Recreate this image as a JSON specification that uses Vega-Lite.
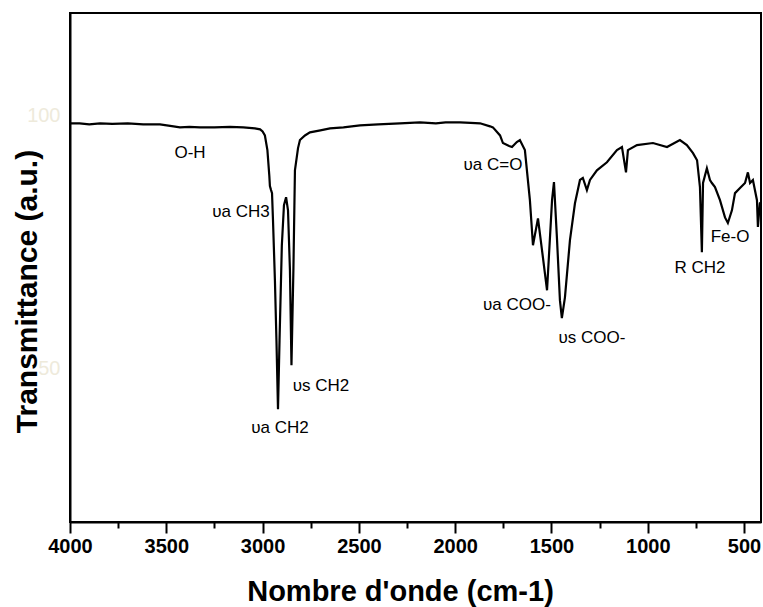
{
  "$schema": "https://vega.github.io/schema/vega-lite/v6.json",
  "width": 691,
  "height": 509,
  "autosize": "none",
  "padding": {"left": 70, "top": 13, "right": 2, "bottom": 85},
  "background": "white",
  "config": {
    "view": {"stroke": "black", "strokeWidth": 2},
    "font": "Liberation Sans"
  },
  "datasets": {
    "spectrum": [
      {"w": 4000, "t": 98.4}, {"w": 3950, "t": 98.4}, {"w": 3900, "t": 98.2}, {"w": 3844, "t": 98.4},
      {"w": 3780, "t": 98.3}, {"w": 3700, "t": 98.4}, {"w": 3620, "t": 98.2}, {"w": 3533, "t": 98.2},
      {"w": 3480, "t": 97.9}, {"w": 3429, "t": 97.6}, {"w": 3380, "t": 97.7}, {"w": 3325, "t": 97.6},
      {"w": 3250, "t": 97.6}, {"w": 3169, "t": 97.7}, {"w": 3100, "t": 97.6}, {"w": 3040, "t": 97.4},
      {"w": 3013, "t": 97.2}, {"w": 3000, "t": 96.8}, {"w": 2988, "t": 96.0}, {"w": 2975, "t": 93.1},
      {"w": 2965, "t": 88.0}, {"w": 2962, "t": 86.0}, {"w": 2956, "t": 85.2}, {"w": 2951, "t": 84.6},
      {"w": 2946, "t": 79.3}, {"w": 2936, "t": 67.4}, {"w": 2928, "t": 55.5}, {"w": 2920, "t": 41.9},
      {"w": 2912, "t": 55.5}, {"w": 2900, "t": 74.3}, {"w": 2889, "t": 82.2}, {"w": 2878, "t": 83.8},
      {"w": 2868, "t": 81.2}, {"w": 2858, "t": 69.4}, {"w": 2850, "t": 50.6}, {"w": 2840, "t": 69.4},
      {"w": 2832, "t": 89.1}, {"w": 2816, "t": 93.5}, {"w": 2806, "t": 95.1}, {"w": 2780, "t": 96.0},
      {"w": 2754, "t": 96.6}, {"w": 2700, "t": 97.0}, {"w": 2650, "t": 97.4}, {"w": 2580, "t": 97.6},
      {"w": 2494, "t": 98.0}, {"w": 2400, "t": 98.2}, {"w": 2287, "t": 98.4}, {"w": 2183, "t": 98.6},
      {"w": 2100, "t": 98.4}, {"w": 2050, "t": 98.6}, {"w": 1975, "t": 98.6}, {"w": 1920, "t": 98.5},
      {"w": 1871, "t": 98.4}, {"w": 1819, "t": 97.8}, {"w": 1804, "t": 97.6}, {"w": 1767, "t": 96.0},
      {"w": 1752, "t": 94.5}, {"w": 1720, "t": 93.9}, {"w": 1705, "t": 93.7}, {"w": 1680, "t": 94.7},
      {"w": 1664, "t": 95.1}, {"w": 1638, "t": 93.1}, {"w": 1612, "t": 83.2}, {"w": 1596, "t": 74.3},
      {"w": 1570, "t": 79.6}, {"w": 1549, "t": 73.3}, {"w": 1523, "t": 65.4}, {"w": 1497, "t": 83.2},
      {"w": 1487, "t": 86.8}, {"w": 1471, "t": 75.3}, {"w": 1456, "t": 63.4}, {"w": 1446, "t": 59.9},
      {"w": 1430, "t": 64.0}, {"w": 1404, "t": 75.3}, {"w": 1378, "t": 82.6}, {"w": 1352, "t": 87.2},
      {"w": 1337, "t": 87.6}, {"w": 1316, "t": 85.2}, {"w": 1300, "t": 87.2}, {"w": 1264, "t": 89.1},
      {"w": 1212, "t": 90.7}, {"w": 1160, "t": 93.1}, {"w": 1134, "t": 93.7}, {"w": 1113, "t": 88.7},
      {"w": 1103, "t": 93.1}, {"w": 1056, "t": 94.1}, {"w": 973, "t": 94.5}, {"w": 900, "t": 93.7},
      {"w": 833, "t": 95.1}, {"w": 797, "t": 94.1}, {"w": 765, "t": 92.5}, {"w": 744, "t": 91.1},
      {"w": 729, "t": 85.8}, {"w": 719, "t": 72.9}, {"w": 713, "t": 86.6}, {"w": 693, "t": 89.5},
      {"w": 677, "t": 87.2}, {"w": 667, "t": 86.6}, {"w": 651, "t": 85.8}, {"w": 625, "t": 83.2},
      {"w": 599, "t": 79.8}, {"w": 584, "t": 78.7}, {"w": 563, "t": 81.2}, {"w": 547, "t": 84.6},
      {"w": 521, "t": 85.6}, {"w": 495, "t": 86.6}, {"w": 480, "t": 88.7}, {"w": 469, "t": 86.6},
      {"w": 454, "t": 87.2}, {"w": 433, "t": 83.2}, {"w": 428, "t": 77.9}, {"w": 418, "t": 82.6},
      {"w": 412, "t": 82.8}
    ],
    "labels": [
      {"w": 3377, "t": 92.5, "label": "O-H"},
      {"w": 3112, "t": 80.8, "label": "υa CH3"},
      {"w": 2697, "t": 46.4, "label": "υs CH2"},
      {"w": 2910, "t": 38.2, "label": "υa CH2"},
      {"w": 1804, "t": 90.1, "label": "υa C=O"},
      {"w": 1679, "t": 62.5, "label": "υa COO-"},
      {"w": 1290, "t": 55.9, "label": "υs COO-"},
      {"w": 729, "t": 69.8, "label": "R CH2"},
      {"w": 573, "t": 75.9, "label": "Fe-O"}
    ]
  },
  "layer": [
    {
      "data": {"name": "spectrum"},
      "mark": {"type": "line", "color": "black", "strokeWidth": 2.2, "clip": true},
      "encoding": {
        "x": {
          "field": "w", "type": "quantitative",
          "scale": {"domain": [412, 4000], "reverse": true, "nice": false, "zero": false},
          "axis": {
            "orient": "bottom",
            "values": [3750, 3250, 2750, 2250, 1750, 1250, 750],
            "labels": false, "grid": false, "tickSize": 6, "tickWidth": 2,
            "tickColor": "black", "domain": true, "domainColor": "black", "domainWidth": 2,
            "title": null
          }
        },
        "y": {
          "field": "t", "type": "quantitative",
          "scale": {"domain": [19.6, 120.2], "nice": false, "zero": false},
          "axis": {
            "orient": "left",
            "values": [50, 100], "ticks": false, "grid": false,
            "domainColor": "black", "domainWidth": 2,
            "labelColor": "#eeeadb", "labelFontSize": 20, "labelFont": "Liberation Sans",
            "labelPadding": 10,
            "title": "Transmittance (a.u.)",
            "titleFont": "Liberation Sans", "titleFontSize": 30, "titleFontWeight": "bold",
            "titleColor": "black", "titleAngle": 270, "titleAlign": "center",
            "titleBaseline": "alphabetic", "titleX": -34, "titleY": 278
          }
        }
      }
    },
    {
      "data": {"name": "spectrum"},
      "mark": {"type": "line", "opacity": 0},
      "encoding": {
        "x": {
          "field": "w", "type": "quantitative",
          "axis": {
            "orient": "bottom",
            "values": [4000, 3500, 3000, 2500, 2000, 1500, 1000, 500],
            "format": "d", "grid": false, "tickSize": 11, "tickWidth": 2, "tickColor": "black",
            "domain": false, "labelFlush": false, "labelOverlap": false,
            "labelFont": "Liberation Sans", "labelFontSize": 20, "labelFontWeight": "bold",
            "labelColor": "black", "labelPadding": 3,
            "title": "Nombre d'onde (cm-1)",
            "titleFont": "Liberation Sans", "titleFontSize": 29, "titleFontWeight": "bold",
            "titleColor": "black", "titleAlign": "center", "titleBaseline": "alphabetic",
            "titleX": 330, "titleY": 78
          }
        },
        "y": {"field": "t", "type": "quantitative", "axis": null}
      }
    },
    {
      "data": {"name": "labels"},
      "mark": {"type": "text", "font": "Liberation Sans", "fontSize": 17, "color": "black", "align": "center", "baseline": "middle"},
      "encoding": {
        "x": {"field": "w", "type": "quantitative", "axis": null},
        "y": {"field": "t", "type": "quantitative", "axis": null},
        "text": {"field": "label"}
      }
    }
  ],
  "resolve": {"axis": {"x": "independent", "y": "independent"}}
}
